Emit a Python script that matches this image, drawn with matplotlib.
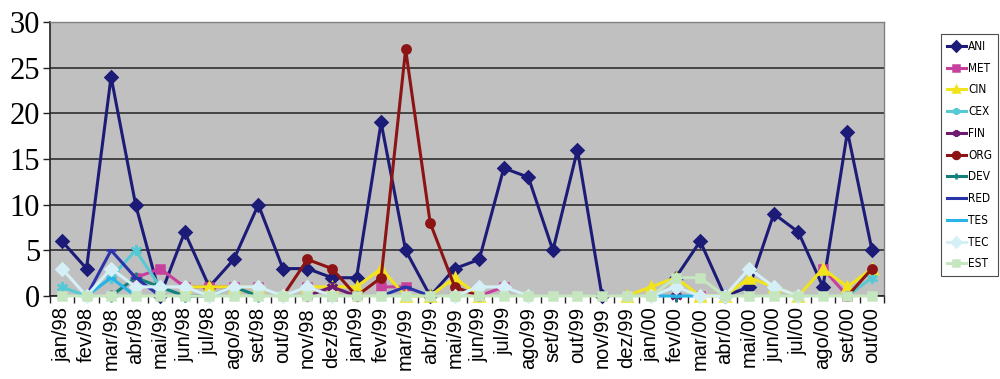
import numpy as np
import matplotlib
matplotlib.use("Agg")
import matplotlib.pyplot as plt
from matplotlib.ticker import FixedLocator

n = np.nan

months = ["jan/98", "fev/98", "mar/98", "abr/98", "mai/98", "jun/98", "jul/98",
          "ago/98", "set/98", "out/98", "nov/98", "dez/98", "jan/99", "fev/99",
          "mar/99", "abr/99", "mai/99", "jun/99", "jul/99", "ago/99", "set/99",
          "out/99", "nov/99", "dez/99", "jan/00", "fev/00", "mar/00", "abr/00",
          "mai/00", "jun/00", "jul/00", "ago/00", "set/00", "out/00"]

ANI = [6, 3, 24, 10, 0, 7, 1, 4, 10, 3, 3, 2, 2, 19, 5, 0, 3, 4, 14, 13, 5, 16, 0,
       n, n, 2, 6, 0, 1, 9, 7, 1, 18, 5]
MET = [n, n, n, 2, 3, 1, 1, 1, 1, n, 1, 0, n, 1, 1, n, n, 0, 1, n, n, n, n,
       n, n, n, 0, n, n, n, n, 3, 0, n]
CIN = [n, n, n, n, n, 1, 1, 1, 1, n, 1, 1, 1, 3, 0, 0, 2, 0, n, n, n, n, n,
       0, 1, 2, 0, 0, 2, 1, 0, 3, 1, 3]
CEX = [1, 0, 2, 5, 1, 0, n, n, n, n, n, n, n, n, n, n, n, n, n, n, n, n, n,
       n, n, n, n, n, n, n, n, n, 0, 2]
FIN = [n, n, n, n, n, n, n, n, n, n, 0, 1, 0, n, n, n, n, n, n, n, n, n, n,
       n, n, 0, n, n, n, n, n, n, n, n]
ORG = [n, n, n, n, n, n, n, n, n, 0, 4, 3, 0, 2, 27, 8, 1, 0, n, n, n, n, n,
       n, n, n, n, n, n, n, n, n, 0, 3]
DEV = [n, n, 0, 2, 1, 0, 0, 1, 0, n, n, n, n, n, n, n, n, n, n, n, n, n, n,
       n, n, 0, n, n, n, n, n, n, n, n]
RED = [n, 0, 5, 2, 0, n, n, n, n, n, n, n, n, 0, 1, 0, n, n, n, n, n, n, n,
       n, n, n, n, n, n, n, n, n, n, n]
TES = [n, 0, 2, 0, n, n, n, n, n, n, n, n, n, n, n, n, n, n, n, n, n, n, n,
       n, 0, 0, 0, n, n, n, n, n, n, n]
TEC = [3, 0, 3, 1, 1, 1, 0, 1, 1, 0, 1, 0, n, n, n, n, 0, 1, 1, 0, n, n, n,
       n, 0, 1, 0, 0, 3, 1, 0, n, n, n]
EST = [0, 0, 0, 0, 0, 0, 0, 0, 0, 0, 0, 0, 0, 0, 0, 0, 0, 0, 0, 0, 0, 0, 0,
       0, 0, 2, 2, 0, 0, 0, 0, 0, 0, 0]

series = [
    ("ANI", ANI, "#1c1c78", "D", 6),
    ("MET", MET, "#c8409e", "s", 6),
    ("CIN", CIN, "#f2e41c", "^", 7),
    ("CEX", CEX, "#56cad4", (6, 2, 0), 8),
    ("FIN", FIN, "#6e1c72", (6, 2, 0), 8),
    ("ORG", ORG, "#8c1414", "o", 6),
    ("DEV", DEV, "#14807a", "+", 8),
    ("RED", RED, "#2a34a8", "_", 7),
    ("TES", TES, "#28b4e6", "_", 7),
    ("TEC", TEC, "#d4f0f6", "D", 6),
    ("EST", EST, "#c6e6c0", "s", 6),
]

fig = plt.figure(figsize=(10, 3.79), dpi=100)
ax = fig.add_axes([0.0497, 0.219, 0.8346, 0.723])
ax.set_facecolor("#c0c0c0")

x = np.arange(len(months))
for name, vals, col, mk, ms in series:
    ax.plot(x, np.array(vals, dtype=float), color=col, lw=2.2, marker=mk,
            markersize=ms, markeredgewidth=1.8, markerfacecolor=col,
            markeredgecolor=col, label=name, clip_on=False, zorder=3)

ax.set_xlim(-0.5, len(months) - 0.5)
ax.set_ylim(0, 30)
ax.set_yticks(range(0, 31, 5))
ax.yaxis.grid(True, color="#3a3a3a", lw=1.3, zorder=1)
ax.set_axisbelow(True)

ax.set_xticks(x)
ax.set_xticklabels(months, rotation=90, fontsize=14.5, family="Liberation Sans",
                   va="top")
ax.tick_params(axis="x", which="major", length=0, pad=8)
ax.xaxis.set_minor_locator(FixedLocator(np.arange(-0.5, len(months), 1.0)))
ax.tick_params(axis="x", which="minor", length=5, width=1, color="#222222",
               direction="out")
ax.tick_params(axis="y", length=5, width=1, color="#222222", pad=2)
for lab in ax.get_yticklabels():
    lab.set_family("Liberation Serif")
    lab.set_fontsize(22)

for side in ("top", "right"):
    ax.spines[side].set_color("#808080")
    ax.spines[side].set_linewidth(1.0)
for side in ("left", "bottom"):
    ax.spines[side].set_color("#222222")
    ax.spines[side].set_linewidth(1.2)

leg = fig.legend(loc="upper left", bbox_to_anchor=(0.941, 0.91),
                 bbox_transform=fig.transFigure, frameon=True, fancybox=False,
                 handlelength=1.6, handletextpad=0.2, borderpad=0.5,
                 labelspacing=0.74, borderaxespad=0,
                 prop={"size": 8.5, "stretch": "condensed"})
leg.get_frame().set_edgecolor("#222222")
leg.get_frame().set_linewidth(0.8)
for h in leg.legend_handles:
    h.set_markersize(5)

fig.savefig("out.png", dpi=100, facecolor="white")
